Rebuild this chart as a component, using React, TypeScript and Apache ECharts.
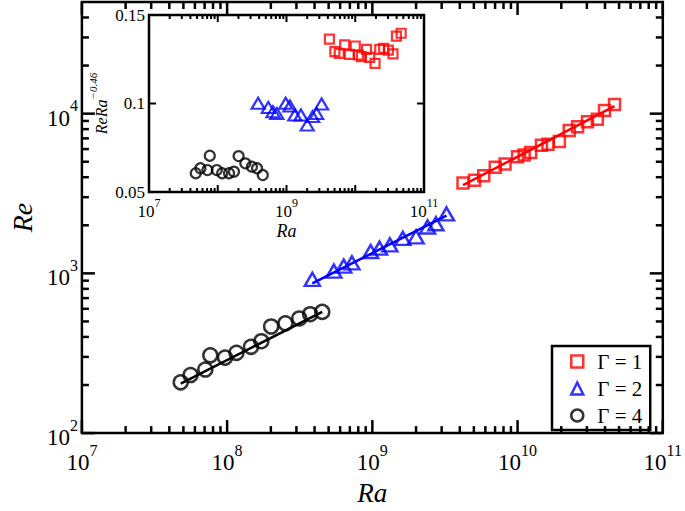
import React, { useEffect, useRef } from 'react';
import * as echarts from 'echarts';

const FONT = '"Liberation Serif", "Times New Roman", Times, serif';

// Gamma = 1 (red squares)
const raG1 = [4.21e9, 5.05e9, 5.85e9, 7.02e9, 8.2e9, 1.0e10, 1.11e10, 1.23e10, 1.46e10, 1.62e10, 1.94e10, 2.27e10, 2.59e10, 3.03e10, 3.54e10, 3.97e10, 4.65e10];
const reG1 = [3680, 3830, 4090, 4620, 4840, 5370, 5500, 5710, 6340, 6430, 6700, 7830, 8280, 8890, 9230, 10480, 11400];
const normG1 = [0.1364, 0.1293, 0.1283, 0.1331, 0.1278, 0.1325, 0.1274, 0.1265, 0.1306, 0.1261, 0.1227, 0.1306, 0.1312, 0.1302, 0.128, 0.1381, 0.1397];

// Gamma = 2 (blue triangles)
const raG2 = [3.86e8, 5.43e8, 6.35e8, 7.23e8, 9.73e8, 1.12e9, 1.32e9, 1.62e9, 2.0e9, 2.4e9, 2.74e9, 3.24e9];
const reG2 = [918, 1033, 1110, 1164, 1371, 1438, 1508, 1656, 1694, 1952, 2046, 2355];
const normG2 = [0.1001, 0.0978, 0.0954, 0.0944, 0.1001, 0.0986, 0.0935, 0.0935, 0.0879, 0.0926, 0.0944, 0.0997];

// Gamma = 4 (black circles)
const raG4 = [4.79e7, 5.6e7, 7.08e7, 7.66e7, 9.68e7, 1.16e8, 1.46e8, 1.72e8, 2.01e8, 2.52e8, 3.14e8, 3.73e8, 4.52e8];
const reG4 = [208, 231, 250, 307, 297, 318, 347, 376, 465, 487, 522, 555, 574];
const normG4 = [0.0606, 0.0634, 0.0624, 0.0705, 0.0624, 0.0606, 0.0606, 0.0615, 0.0703, 0.0662, 0.0643, 0.0634, 0.0596];

// Fit lines (end points)
const fitRaG1 = [4.21e9, 4.65e10];
const fitReG1 = [3565, 11140];
const fitRaG2 = [3.86e8, 3.24e9];
const fitReG2 = [865, 2300];
const fitRaG4 = [4.79e7, 4.52e8];
const fitReG4 = [204, 574];

const legendNames = ['Γ = 1', 'Γ = 2', 'Γ = 4'];
const colors = ['#ff0000', '#0000ff', '#000000'];

// Axis ranges / ticks
const xMin = 1e7, xMax = 1e11;
const yMin = 1e2, yMax = 5e4;
const insetYMin = 0.05, insetYMax = 0.15;
const xDecades = [1e7, 1e8, 1e9, 1e10, 1e11];
const yDecades = [1e2, 1e3, 1e4];
const insetYTicks = [0.05, 0.1, 0.15];
const minorMultipliers = [2, 3, 4, 5, 6, 7, 8, 9];

function minorsOf(decades: number[], maxV: number) {
  const out: number[] = [];
  decades.forEach((d) => minorMultipliers.forEach((m) => { const v = d * m; if (v < maxV * 0.999) out.push(v); }));
  return out;
}
const xMinors = minorsOf(xDecades.slice(0, 4), xMax);
const yMinors = minorsOf(yDecades, yMax);

const pairs = (a: number[], b: number[]) => a.map((v, i) => [v, b[i]]);

function powFmt(v: number) {
  const e = Math.round(Math.log10(v));
  if (Math.abs(v / Math.pow(10, e) - 1) > 1e-6) return '';
  return `{b|10}{s|${e}}`;
}
function insetPowFmt(v: number) {
  const e = Math.round(Math.log10(v));
  if (Math.abs(v / Math.pow(10, e) - 1) > 1e-6) return '';
  if (e % 2 === 0) return '';
  return `{b|10}{s|${e}}`;
}

const mainRich = {
  b: { fontFamily: FONT, fontSize: 23, color: '#000', padding: [9, 0, 0, 0], verticalAlign: 'bottom' },
  s: { fontFamily: FONT, fontSize: 16, color: '#000', verticalAlign: 'top' },
};
const insetRich = {
  b: { fontFamily: FONT, fontSize: 17, color: '#000', padding: [6, 0, 0, 0], verticalAlign: 'bottom' },
  s: { fontFamily: FONT, fontSize: 12, color: '#000', verticalAlign: 'top' },
};

function tickRenderer(
  xMaj: number[], xMin_: number[], yMaj: number[], yMin_: number[],
  x0: number, x1: number, y0: number, y1: number,
  majLen: number, minLen: number, lw: number
) {
  return (_params: any, api: any) => {
    const children: any[] = [];
    const add = (a: number[], b: number[]) =>
      children.push({ type: 'line', shape: { x1: a[0], y1: a[1], x2: b[0], y2: b[1] }, style: { stroke: '#000', lineWidth: lw } });
    const xt = (v: number, len: number) => {
      const b = api.coord([v, y0]);
      const t = api.coord([v, y1]);
      add(b, [b[0], b[1] - len]);
      add(t, [t[0], t[1] + len]);
    };
    const yt = (v: number, len: number) => {
      const l = api.coord([x0, v]);
      const r = api.coord([x1, v]);
      add(l, [l[0] + len, l[1]]);
      add(r, [r[0] - len, r[1]]);
    };
    xMaj.forEach((v) => xt(v, majLen));
    xMin_.forEach((v) => xt(v, minLen));
    yMaj.forEach((v) => yt(v, majLen));
    yMin_.forEach((v) => yt(v, minLen));
    return { type: 'group', children };
  };
}

const hollow = (c: string, w = 2.5) => ({ color: 'rgba(0,0,0,0)', borderColor: c, borderWidth: w });

export default function App() {
  const ref = useRef<HTMLDivElement>(null);
  useEffect(() => {
    const chart = echarts.init(ref.current!, null, { renderer: 'svg' });
    const option: any = {
      animation: false,
      backgroundColor: '#fff',
      grid: [
        { left: 75, top: 2, width: 588, height: 440, show: true, borderColor: '#000', borderWidth: 2.5, backgroundColor: 'rgba(0,0,0,0)' },
        { left: 149, top: 15, width: 275, height: 177, show: true, borderColor: '#000', borderWidth: 2.5, backgroundColor: '#fff' },
      ],
      legend: {
        show: true,
        orient: 'vertical',
        left: 552,
        top: 346,
        padding: [5, 8, 4, 18],
        itemGap: 6,
        itemWidth: 12,
        itemHeight: 12,
        borderColor: '#000',
        borderWidth: 2.5,
        borderRadius: 0,
        backgroundColor: '#fff',
        selectedMode: false,
        textStyle: { fontFamily: FONT, fontSize: 21, color: '#000', padding: [0, 0, 0, 9] },
        data: [
          { name: legendNames[0], icon: 'rect', itemStyle: hollow(colors[0]) },
          { name: legendNames[1], icon: 'triangle', itemStyle: hollow(colors[1]) },
          { name: legendNames[2], icon: 'circle', itemStyle: hollow(colors[2]) },
        ],
      },
      xAxis: [
        {
          gridIndex: 0, type: 'log', logBase: 10, min: xMin, max: xMax, position: 'bottom',
          axisLine: { show: false }, axisTick: { show: false }, splitLine: { show: false },
          axisLabel: { formatter: powFmt, rich: mainRich, margin: 9, color: '#000' },
          name: 'Ra', nameLocation: 'middle', nameGap: 38,
          nameTextStyle: { fontFamily: FONT, fontStyle: 'italic', fontSize: 27, color: '#000' },
        },
        {
          gridIndex: 1, type: 'log', logBase: 10, min: xMin, max: xMax, position: 'bottom',
          axisLine: { show: false }, axisTick: { show: false }, splitLine: { show: false },
          axisLabel: { formatter: insetPowFmt, rich: insetRich, margin: 5, color: '#000' },
          name: 'Ra', nameLocation: 'middle', nameGap: 30,
          nameTextStyle: { fontFamily: FONT, fontStyle: 'italic', fontSize: 18, color: '#000' },
        },
      ],
      yAxis: [
        {
          gridIndex: 0, type: 'log', logBase: 10, min: yMin, max: yMax,
          axisLine: { show: false }, axisTick: { show: false }, splitLine: { show: false },
          axisLabel: { formatter: powFmt, rich: mainRich, margin: 4, color: '#000' },
          name: 'Re', nameLocation: 'middle', nameGap: 38,
          nameTextStyle: { fontFamily: FONT, fontStyle: 'italic', fontSize: 28, color: '#000' },
        },
        {
          gridIndex: 1, type: 'value', min: insetYMin, max: insetYMax, interval: 0.05,
          axisLine: { show: false }, axisTick: { show: false }, splitLine: { show: false },
          axisLabel: { fontFamily: FONT, fontSize: 17, color: '#000', margin: 4 },
          name: '{i|ReRa}{s|−0.46}', nameLocation: 'middle', nameGap: 40,
          nameTextStyle: {
            rich: {
              i: { fontFamily: FONT, fontStyle: 'italic', fontSize: 16, color: '#000', padding: [6, 0, 0, 0], verticalAlign: 'bottom' },
              s: { fontFamily: FONT, fontStyle: 'italic', fontSize: 11, color: '#000', verticalAlign: 'top' },
            },
          },
        },
      ],
      series: [
        { type: 'line', xAxisIndex: 0, yAxisIndex: 0, name: 'fit1', data: pairs(fitRaG1, fitReG1), showSymbol: false, lineStyle: { color: colors[0], width: 2.5 }, z: 2, silent: true },
        { type: 'line', xAxisIndex: 0, yAxisIndex: 0, name: 'fit2', data: pairs(fitRaG2, fitReG2), showSymbol: false, lineStyle: { color: colors[1], width: 2.5 }, z: 2, silent: true },
        { type: 'line', xAxisIndex: 0, yAxisIndex: 0, name: 'fit4', data: pairs(fitRaG4, fitReG4), showSymbol: false, lineStyle: { color: colors[2], width: 2.5 }, z: 2, silent: true },
        { type: 'scatter', xAxisIndex: 0, yAxisIndex: 0, name: legendNames[0], data: pairs(raG1, reG1), symbol: 'rect', symbolSize: 11, itemStyle: hollow(colors[0]), z: 3 },
        { type: 'scatter', xAxisIndex: 0, yAxisIndex: 0, name: legendNames[1], data: pairs(raG2, reG2), symbol: 'triangle', symbolSize: [15, 13], itemStyle: hollow(colors[1]), z: 3 },
        { type: 'scatter', xAxisIndex: 0, yAxisIndex: 0, name: legendNames[2], data: pairs(raG4, reG4), symbol: 'circle', symbolSize: 14, itemStyle: hollow(colors[2]), z: 3 },
        { type: 'scatter', xAxisIndex: 1, yAxisIndex: 1, name: 'inset1', data: pairs(raG1, normG1), symbol: 'rect', symbolSize: 9, itemStyle: hollow(colors[0], 2.2), z: 5 },
        { type: 'scatter', xAxisIndex: 1, yAxisIndex: 1, name: 'inset2', data: pairs(raG2, normG2), symbol: 'triangle', symbolSize: [13, 11], itemStyle: hollow(colors[1], 2.2), z: 5 },
        { type: 'scatter', xAxisIndex: 1, yAxisIndex: 1, name: 'inset4', data: pairs(raG4, normG4), symbol: 'circle', symbolSize: 10, itemStyle: hollow(colors[2], 2.2), z: 5 },
        {
          type: 'custom', xAxisIndex: 0, yAxisIndex: 0, name: 'ticksMain', silent: true, z: 4,
          data: [[1e8, 1e3]],
          renderItem: tickRenderer(xDecades, xMinors, yDecades, yMinors, xMin, xMax, yMin, yMax, 13, 7, 2.5),
        },
        {
          type: 'custom', xAxisIndex: 1, yAxisIndex: 1, name: 'ticksInset', silent: true, z: 6,
          data: [[1e8, 0.1]],
          renderItem: tickRenderer(xDecades, xMinors, insetYTicks, [], xMin, xMax, insetYMin, insetYMax, 7, 4, 2),
        },
      ],
    };
    chart.setOption(option);
    return () => chart.dispose();
  }, []);
  return <div ref={ref} style={{ position: 'absolute', left: 0, top: 0, width: 685, height: 511 }} />;
}
